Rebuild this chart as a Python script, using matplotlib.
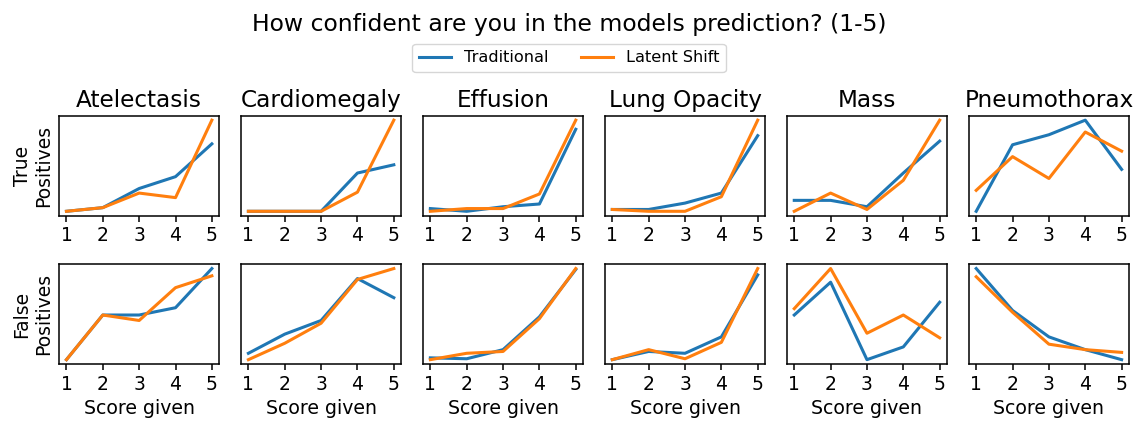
import numpy as np
import matplotlib
matplotlib.use("Agg")
import matplotlib.pyplot as plt

scores = [1, 2, 3, 4, 5]
diseases = ["Atelectasis", "Cardiomegaly", "Effusion", "Lung Opacity", "Mass", "Pneumothorax"]
row_labels = ["True\nPositives", "False\nPositives"]

# True positives, relative confidence per score
tp_traditional = [
    [0.00, 0.04, 0.25, 0.38, 0.74],
    [0.00, 0.00, 0.00, 0.42, 0.51],
    [0.03, 0.00, 0.05, 0.08, 0.90],
    [0.02, 0.02, 0.09, 0.20, 0.83],
    [0.12, 0.12, 0.05, 0.42, 0.77],
    [0.00, 0.73, 0.84, 1.00, 0.46],
]
tp_latent = [
    [0.00, 0.04, 0.20, 0.15, 1.00],
    [0.00, 0.00, 0.00, 0.21, 1.00],
    [0.00, 0.03, 0.03, 0.19, 1.00],
    [0.02, 0.00, 0.00, 0.16, 1.00],
    [0.00, 0.20, 0.02, 0.34, 1.00],
    [0.23, 0.60, 0.36, 0.87, 0.66],
]
# False positives
fp_traditional = [
    [0.00, 0.49, 0.49, 0.57, 1.00],
    [0.07, 0.28, 0.43, 0.89, 0.68],
    [0.02, 0.01, 0.11, 0.47, 0.99],
    [0.00, 0.09, 0.07, 0.25, 0.93],
    [0.49, 0.85, 0.00, 0.14, 0.63],
    [1.00, 0.54, 0.25, 0.11, 0.00],
]
fp_latent = [
    [0.00, 0.49, 0.43, 0.79, 0.92],
    [0.00, 0.18, 0.40, 0.88, 1.00],
    [0.00, 0.07, 0.09, 0.45, 1.00],
    [0.00, 0.11, 0.01, 0.19, 1.00],
    [0.56, 1.00, 0.29, 0.49, 0.24],
    [0.91, 0.52, 0.17, 0.11, 0.08],
]

plt.rcParams["axes.linewidth"] = 1.1
plt.rcParams["xtick.major.width"] = 1.1
plt.rcParams["xtick.major.size"] = 4

fig, axes = plt.subplots(2, 6, figsize=(11.38, 4.25), dpi=100)
fig.subplots_adjust(left=0.052, right=0.992, top=0.728, bottom=0.143,
                    wspace=0.1375, hspace=0.48)

rows = [(tp_traditional, tp_latent), (fp_traditional, fp_latent)]
for r, (trad, lat) in enumerate(rows):
    for c, name in enumerate(diseases):
        ax = axes[r, c]
        ax.plot(scores, trad[c], color="#1f77b4", lw=2.2, label="Traditional")
        ax.plot(scores, lat[c], color="#ff7f0e", lw=2.2, label="Latent Shift")
        ax.set_yticks([])
        ax.set_xticks(scores)
        ax.tick_params(axis="x", labelsize=13.5)
        if r == 0:
            ax.set_title(name, fontsize=16.7)
        else:
            ax.set_xlabel("Score given", fontsize=13.6)
        if c == 0:
            ax.set_ylabel(row_labels[r], fontsize=13.5)

handles, labels = axes[0, 0].get_legend_handles_labels()
fig.legend(handles, labels, loc="center", bbox_to_anchor=(0.5, 0.864), ncol=2,
           fontsize=11.6)
fig.suptitle("How confident are you in the models prediction? (1-5)", fontsize=16.9, y=0.97)

fig.savefig("out.png", dpi=100)
